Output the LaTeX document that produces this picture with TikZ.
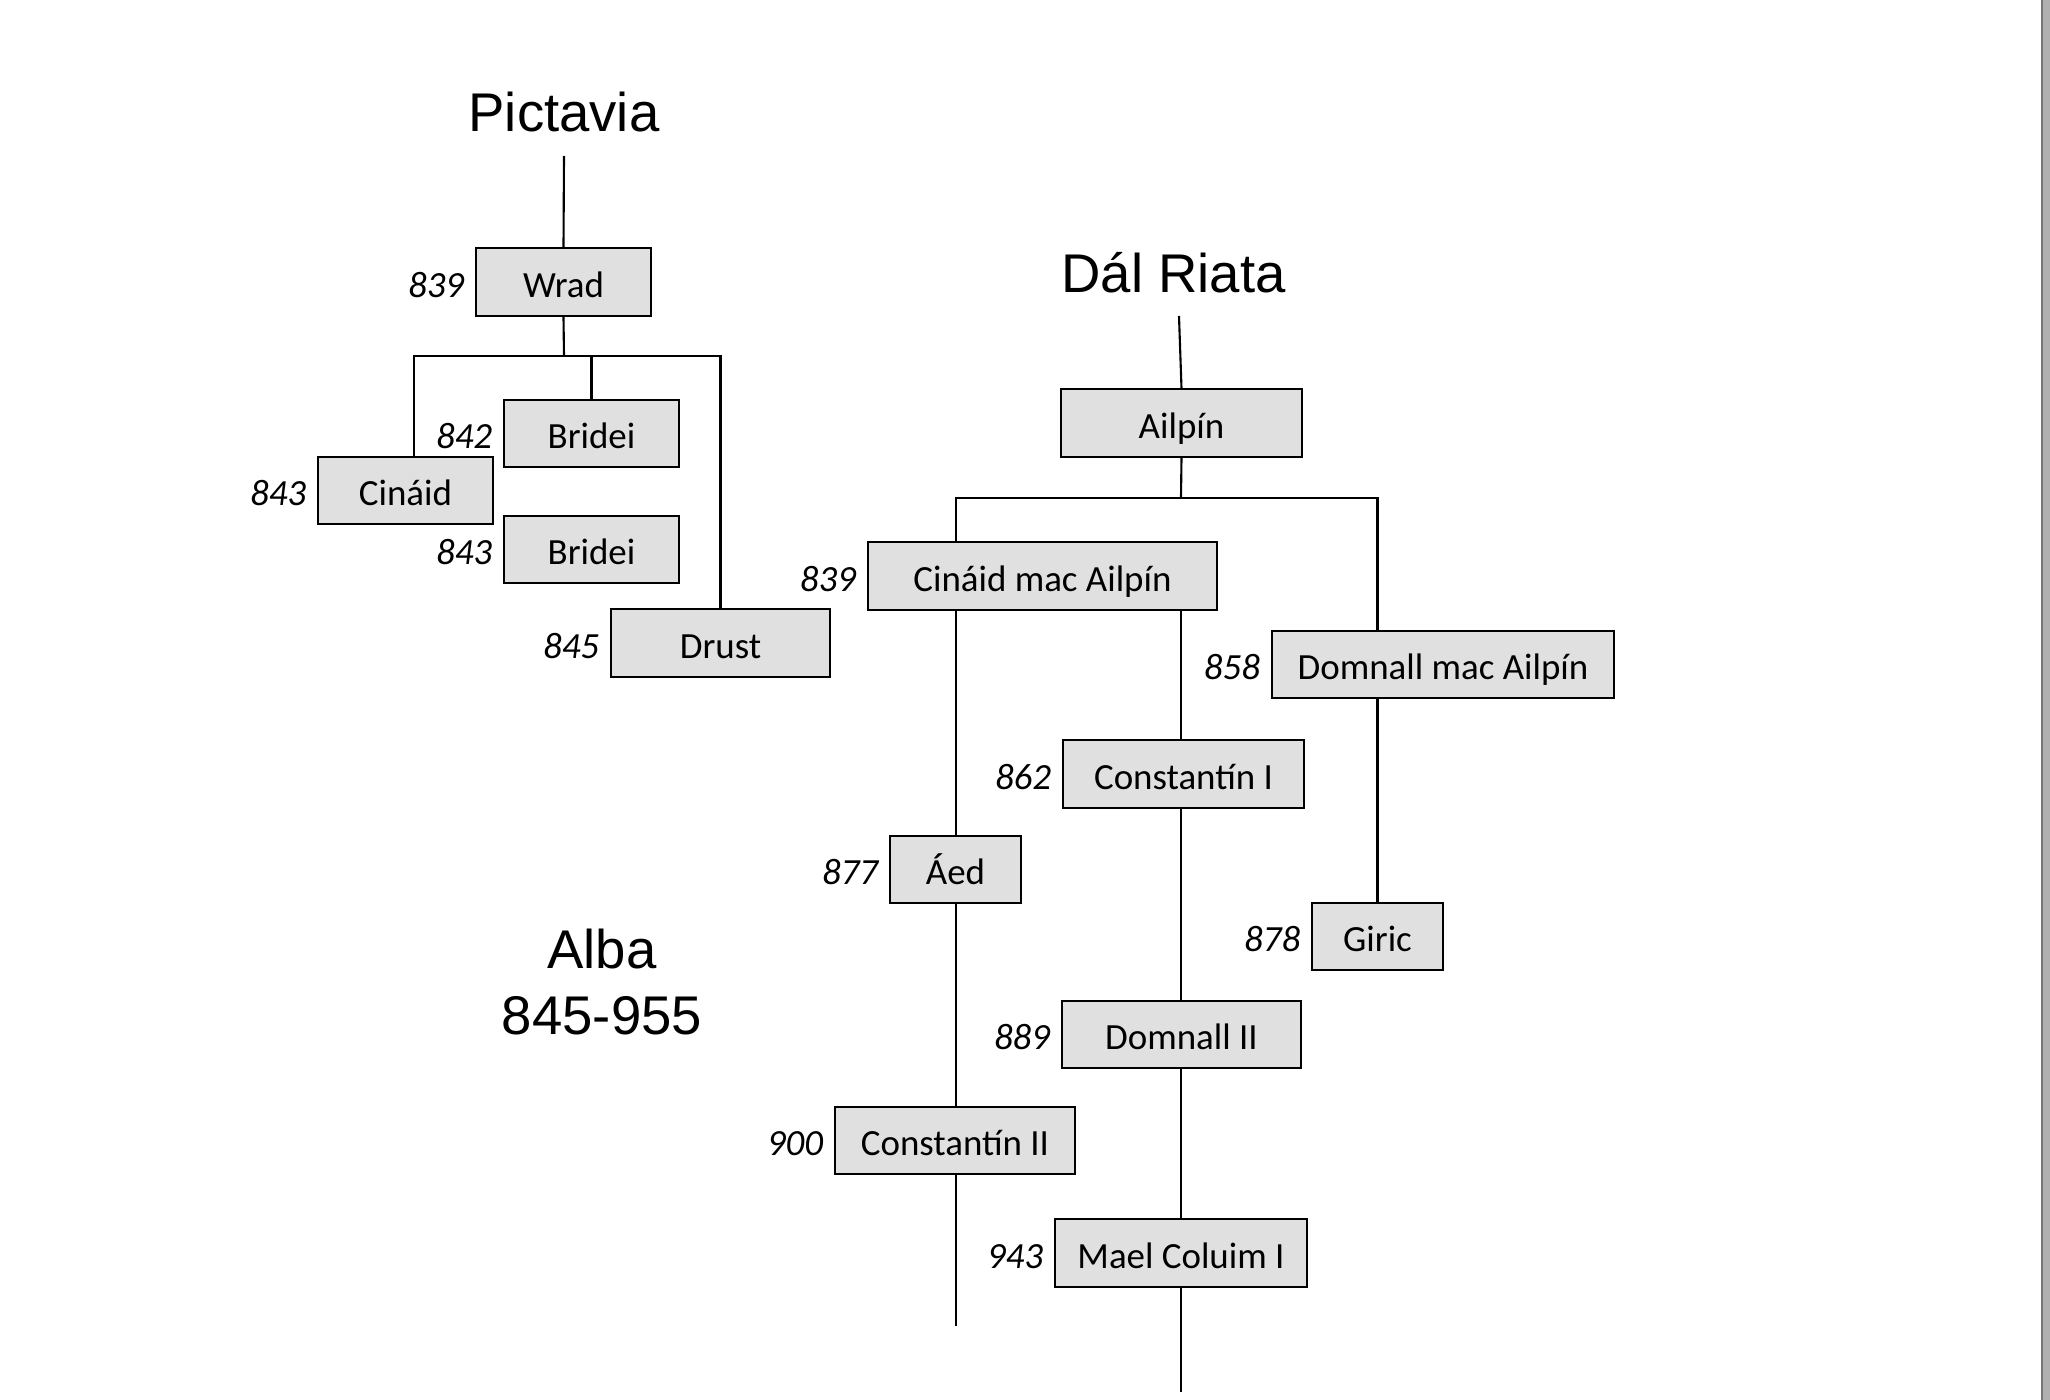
\documentclass[tikz,border=0pt]{standalone}
\usepackage{fontspec}
\setmainfont{Carlito}
\newfontfamily\realmfont{Liberation Sans}
\usetikzlibrary{positioning, backgrounds}
\definecolor{boxgray}{RGB}{224,224,224}
\definecolor{barfill}{RGB}{176,176,176}
\definecolor{baredge}{RGB}{118,118,118}

\begin{document}
\begin{tikzpicture}[x=0.01cm, y=-0.01cm,
    king/.style={draw=black, fill=boxgray, line width=0.6pt,
        minimum height=0.675cm, inner sep=0pt,
        font=\fontsize{10.5}{12}\selectfont, text height=0.86em, text depth=0em},
    year/.style={inner sep=0pt, font=\fontsize{10.5}{12}\selectfont\itshape,
        text height=0.86em, text depth=0em},
    realm/.style={inner sep=0pt, align=center,
        font=\realmfont\fontsize{15.5}{18.5}\selectfont},
    tie/.style={line width=0.6pt}]
    \useasboundingbox (0,0) rectangle (2050,1400);

    % ---- TITOLI ----
    \node[realm, anchor=base] (pictavia) at (564,132) {Pictavia};
    \node[realm, anchor=base] (dalriata) at (1173.5,293) {Dál Riata};
    \node[realm] (alba) at (602,982) {Alba\\845-955};

    % ---- PICTAVIA ----
    \node[king, minimum width=1.75cm] (wrad) at (563.5,282) {Wrad};
    \node[king, minimum width=1.75cm] (bridei1) at (591.5,433.5) {Bridei};
    \node[king, minimum width=1.75cm] (cinaid) at (405.5,490.5) {Cináid};
    \node[king, minimum width=1.75cm] (bridei2) at (591.5,549.5) {Bridei};
    \node[king, minimum width=2.19cm] (drust) at (720.5,643) {Drust};

    % ---- DAL RIATA ----
    \node[king, minimum width=2.41cm] (ailpin) at (1181.5,423) {Ailpín};
    \node[king, minimum width=3.49cm] (cma) at (1042.5,576) {Cináid mac Ailpín};
    \node[king, minimum width=3.42cm] (dma) at (1443,664.5) {Domnall mac Ailpín};
    \node[king, minimum width=2.41cm] (const1) at (1183.5,774) {Constantín I};
    \node[king, minimum width=1.31cm] (aed) at (955.5,869.5) {Áed};
    \node[king, minimum width=1.31cm] (giric) at (1377.5,936.5) {Giric};
    \node[king, minimum width=2.39cm] (domnall2) at (1181.5,1034.5) {Domnall II};
    \node[king, minimum width=2.40cm] (const2) at (955,1140.5) {Constantín II};
    \node[king, minimum width=2.52cm] (mael) at (1181,1253) {Mael Coluim I};

    % ---- ANNI ----
    \node[year, left=0.1cm of wrad] (yrWrad) {839};
    \node[year, left=0.1cm of bridei1] (yrBridei1) {842};
    \node[year, left=0.1cm of cinaid] (yrCinaid) {843};
    \node[year, left=0.1cm of bridei2] (yrBridei2) {843};
    \node[year, left=0.1cm of drust] (yrDrust) {845};
    \node[year, left=0.1cm of cma] (yrCma) {839};
    \node[year, left=0.1cm of dma] (yrDma) {858};
    \node[year, left=0.1cm of const1] (yrConst1) {862};
    \node[year, left=0.1cm of aed] (yrAed) {877};
    \node[year, left=0.1cm of giric] (yrGiric) {878};
    \node[year, left=0.1cm of domnall2] (yrDomnall2) {889};
    \node[year, left=0.1cm of const2] (yrConst2) {900};
    \node[year, left=0.1cm of mael] (yrMael) {943};

    % ---- LINEE ----
    \coordinate (pictTop) at (564,156);
    \coordinate (pictJoin) at (564,356);
    \coordinate (dalTop) at (1179,316);
    \coordinate (dalJoin) at (1181,498);
    \coordinate (aedEnd) at (956,1326);
    \coordinate (maelEnd) at (1181,1392);
    \begin{scope}[on background layer]
        \draw[tie] (pictTop) -- (wrad.north);
        \draw[tie] (wrad.south) -- (pictJoin);
        \draw[tie] ([xshift=0.085cm]cinaid.north) |- (pictJoin) -| (drust.north);
        \draw[tie] (bridei1.north) -- (bridei1.north |- pictJoin);
        \draw[tie] (dalTop) -- (ailpin.north);
        \draw[tie] (ailpin.south) -- (dalJoin);
        \draw[tie] (cma.north -| aedEnd) |- (dalJoin) -| (giric.north);
        \draw[tie] (cma.south -| aedEnd) -- (aedEnd);
        \draw[tie] (cma.south -| maelEnd) -- (maelEnd);
    \end{scope}

    % ---- BARRA ----
    \fill[barfill] (2042,0) rectangle (2050,1400);
    \draw[baredge, line width=0.5pt] (2042,0) -- (2042,1400);
\end{tikzpicture}
\end{document}
